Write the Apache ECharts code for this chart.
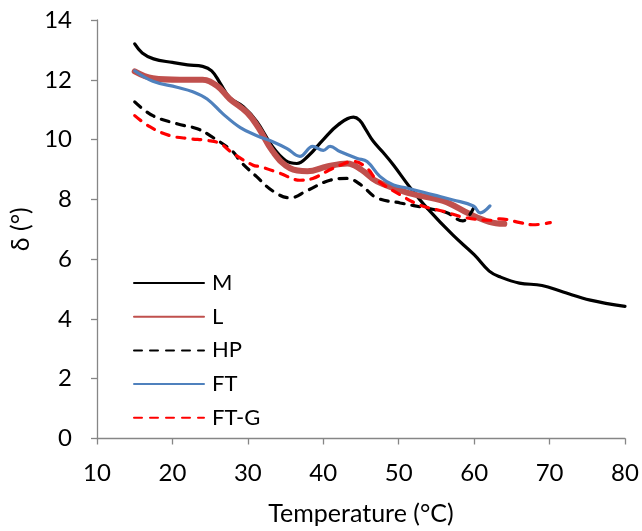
<!DOCTYPE html>
<html><head><meta charset="utf-8">
<script src="https://cdn.jsdelivr.net/npm/echarts@6/dist/echarts.min.js"></script>
<style>html,body{margin:0;padding:0;background:#fff}#c{width:642px;height:531px}</style>
</head><body><div id="c"></div>
<script>
const xTicks = [10,20,30,40,50,60,70,80];
const yTicks = [0,2,4,6,8,10,12,14];
const seriesNames = ['M','L','HP','FT','FT-G'];
const M = [[15,13.2],[16,12.9],[17.5,12.7],[20,12.58],[22,12.5],[24,12.45],[25.2,12.3],[26.3,11.9],[27.6,11.4],[29.4,11.1],[31.2,10.6],[33.3,9.75],[35,9.3],[36.5,9.2],[38,9.45],[40,10.0],[42,10.5],[44,10.75],[44.8,10.65],[45.6,10.35],[46.6,9.95],[48,9.55],[49.3,9.15],[51.5,8.4],[53.8,7.7],[57.2,6.8],[60,6.15],[62,5.6],[63.5,5.4],[66,5.2],[69,5.12],[71.8,4.9],[75.4,4.63],[80,4.42]];
const L = [[15,12.28],[17.4,12.05],[21,12.0],[24,12.0],[25.9,11.8],[27.6,11.36],[29.9,10.9],[31.4,10.4],[33.3,9.6],[35.6,9.04],[37.9,8.94],[40.5,9.1],[43.2,9.2],[45,9.0],[47.1,8.6],[51.5,8.2],[55.9,7.95],[59.5,7.5],[62,7.25],[64,7.18]];
const HP = [[15,11.26],[17.4,10.8],[20.6,10.53],[23.3,10.36],[25,10.13],[28,9.6],[29,9.27],[31.2,8.75],[33.3,8.28],[35.6,8.05],[37.9,8.3],[40.9,8.64],[43.2,8.7],[44.9,8.5],[47.1,8.05],[50.2,7.88],[53.8,7.7],[56.4,7.55],[58.5,7.28],[59.3,7.45],[59.9,7.7]];
const FT = [[15,12.3],[17.4,11.95],[20.6,11.75],[22.7,11.6],[24.6,11.36],[26.7,10.86],[29,10.4],[31.2,10.13],[33.3,9.93],[35.2,9.7],[36.9,9.44],[38.6,9.77],[40,9.64],[40.9,9.77],[42.2,9.6],[44.5,9.37],[45.8,9.27],[47.5,8.77],[49.3,8.48],[51.1,8.38],[54.6,8.15],[57.2,7.98],[59.9,7.78],[60.8,7.55],[62.1,7.78]];
const FTG = [[15,10.8],[17,10.43],[19.7,10.13],[22.3,10.03],[24.6,9.97],[26.3,9.87],[28,9.54],[30.7,9.14],[31.6,9.1],[34.3,8.87],[36.9,8.64],[38.6,8.7],[40.5,8.94],[42.2,9.14],[44,9.27],[45.8,9.04],[47.1,8.65],[50.2,8.15],[52.8,7.81],[55.9,7.6],[59,7.38],[62.5,7.3],[63.4,7.35],[66.1,7.22],[67.8,7.15],[70.1,7.22]];

const FONT = 'Lato';
const chart = echarts.init(document.getElementById('c'), null, {renderer:'canvas'});
function s(name, data, color, width, type){
  return {name, type:'line', data, smooth:0.4, symbol:'none',
    lineStyle:{color, width, type, cap:'round'}, itemStyle:{color}};
}
chart.setOption({
  animation:false,
  textStyle:{fontFamily:FONT},
  grid:{left:97, right:17, top:20, bottom:89},
  legend:{orient:'vertical', left:128, top:267, itemWidth:70, itemHeight:14, itemGap:11.7,
    itemStyle:{opacity:0},
    textStyle:{fontFamily:FONT, fontSize:22, color:'#000', padding:[0,0,0,3]},
    data:seriesNames},
  xAxis:{type:'value', min:xTicks[0], max:xTicks[xTicks.length-1], interval:10,
    name:'Temperature (°C)', nameLocation:'middle', nameGap:62.5,
    nameTextStyle:{fontFamily:FONT, fontSize:25, color:'#000'},
    axisLine:{lineStyle:{color:'#868686', width:1.3}},
    axisTick:{show:true, length:6, lineStyle:{color:'#868686', width:1.3}},
    axisLabel:{fontFamily:FONT, fontSize:24, color:'#000', margin:23},
    splitLine:{show:false}},
  yAxis:{type:'value', min:yTicks[0], max:yTicks[yTicks.length-1], interval:2,
    name:'δ (°)', nameLocation:'middle', nameGap:59, nameRotate:90,
    nameTextStyle:{fontFamily:FONT, fontSize:25, color:'#000'},
    axisLine:{show:true, lineStyle:{color:'#868686', width:1.3}},
    axisTick:{show:true, length:6, lineStyle:{color:'#868686', width:1.3}},
    axisLabel:{fontFamily:FONT, fontSize:24, color:'#000', margin:25},
    splitLine:{show:false}},
  series:[
    s('M', M, '#000000', 3.2, 'solid'),
    s('L', L, '#C0504D', 6, 'solid'),
    s('HP', HP, '#000000', 3.2, [8,8]),
    s('FT', FT, '#4F81BD', 3.2, 'solid'),
    s('FT-G', FTG, '#FF0000', 3.2, [8,8])
  ]
});
</script></body></html>
